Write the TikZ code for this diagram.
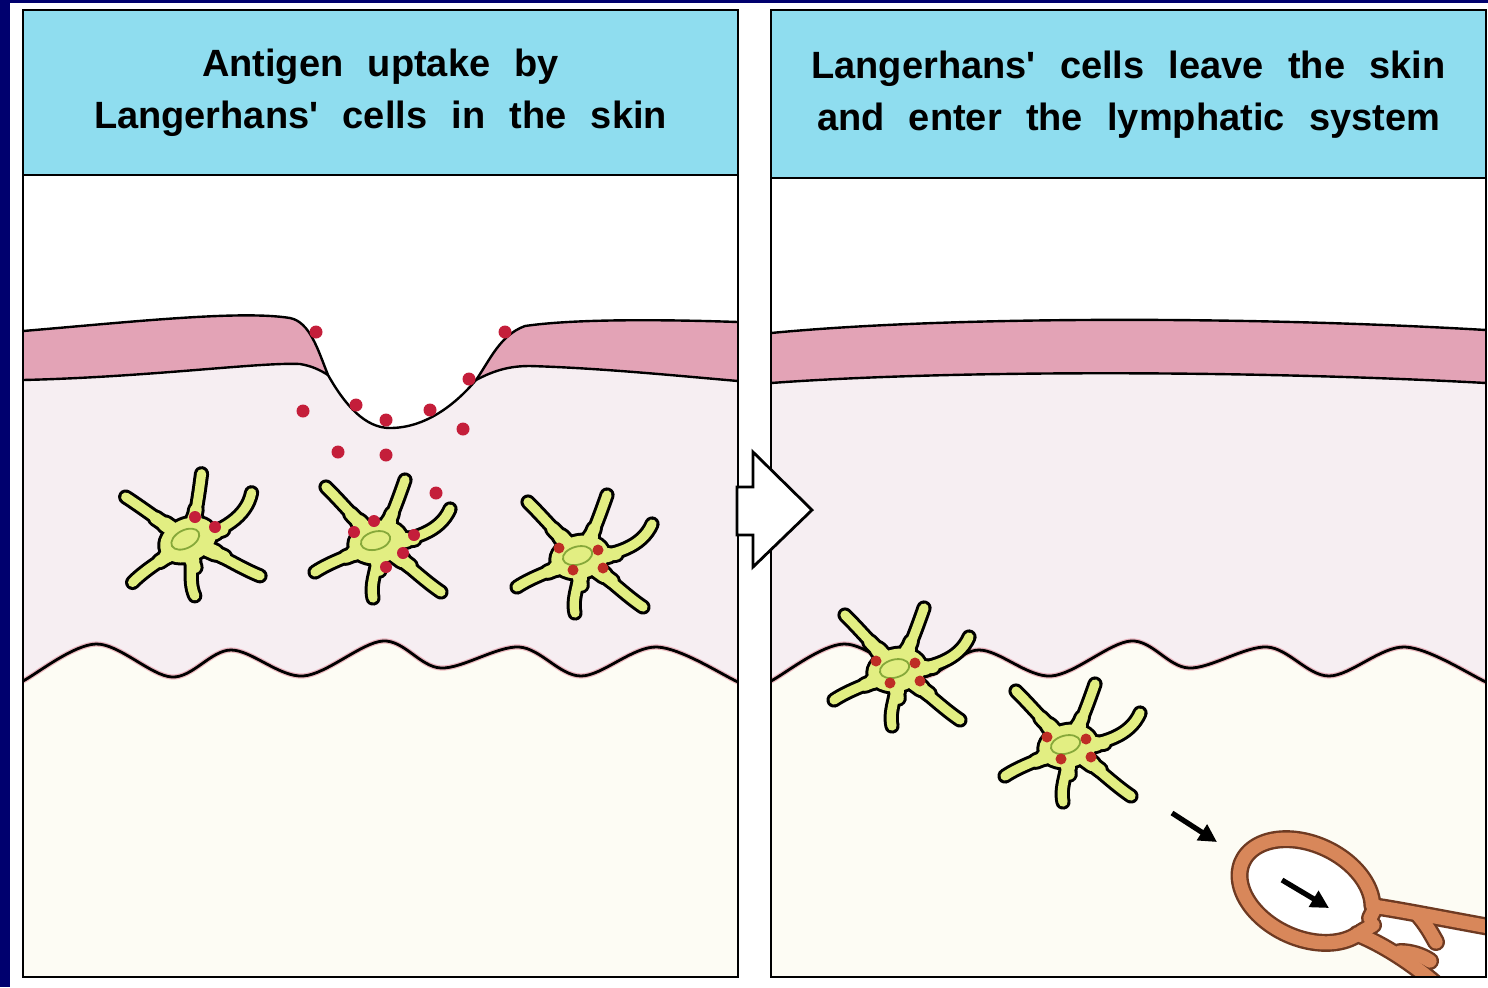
\documentclass[tikz,border=0pt]{standalone}
\usepackage{fontspec}
\newfontfamily\hdrfont[WordSpace=2.3,Ligatures=TeXOff]{Liberation Sans}
\usetikzlibrary{arrows.meta}

\definecolor{navy}{HTML}{00006E}
\definecolor{hdrcyan}{HTML}{8FDDEF}
\definecolor{epid}{HTML}{F6EEF2}
\definecolor{dermis}{HTML}{FDFCF4}
\definecolor{corneum}{HTML}{E3A3B6}
\definecolor{cellyel}{HTML}{E2EE82}
\definecolor{nucgreen}{HTML}{86A83A}
\definecolor{antigen}{HTML}{C41E3A}
\definecolor{granule}{HTML}{BE2D25}
\definecolor{lymphwall}{HTML}{D8875A}
\definecolor{lymphedge}{HTML}{6E3A22}

\tikzset{
  panelline/.style={draw=black,line width=1.4pt},
  skinline/.style={draw=black,line width=1.2pt},
  waveline/.style={draw=black,line width=1.4pt},
  wavehalo/.style={draw=antigen!60,line width=2.6pt,opacity=0.5},
  hdr/.style={align=center,inner sep=0pt,
    font=\hdrfont\bfseries\fontsize{19}{26}\selectfont},
  antidot/.style={fill=antigen},
  grandot/.style={fill=granule},
  migarrow/.style={line width=2.6pt,-{Triangle[length=9pt,width=9pt]}},
  bigarrow/.style={fill=white,draw=black,line width=1.4pt,line join=miter},
  % Langerhans' cell: six tapering processes round a body with a nucleus
  lcell/.pic={
    \foreach \w/\wm/\wb/\col/\rx/\ry in {7.6pt/8.8pt/10pt/black/32/24, 4.6pt/5.8pt/7pt/cellyel/29/21}{
      \draw[line width=\w,color=\col,line cap=round]
        (0,0) .. controls (-18,-18) and (-35,-38) .. (-52,-55)
        (4,-4) .. controls (14,-26) and (20,-42) .. (27,-62)
        (8,0) .. controls (35,-2) and (62,-10) .. (72,-33)
        (5,4) .. controls (25,18) and (45,38) .. (63,50)
        (-2,6) .. controls (3,22) and (-9,38) .. (-5,56)
        (-4,4) .. controls (-25,12) and (-48,20) .. (-63,30);
      \draw[line width=\wm,color=\col,line cap=round]
        (0,0) -- (-27,-28)
        (4,-4) -- (14,-28)
        (8,0) -- (36,-3)
        (5,4) -- (32,24)
        (-2,6) -- (1,28)
        (-4,4) -- (-32,15);
      \draw[line width=\wb,color=\col,line cap=round]
        (0,0) -- (-19,-20)
        (4,-4) -- (11,-20)
        (8,0) -- (28,-2)
        (5,4) -- (24,18)
        (-2,6) -- (0,21)
        (-4,4) -- (-24,11);
      \fill[color=\col,rotate=12] (0,0) ellipse[x radius=\rx,y radius=\ry];
    }
    \draw[nucgreen,line width=0.9pt,rotate=15] (-2,-2) ellipse[x radius=15,y radius=9];
  }
}

\begin{document}
\begin{tikzpicture}[x=0.5pt,y=-0.5pt]
\useasboundingbox (0,0) rectangle (1488,987);
\fill[navy] (0,0) rectangle (1488,987);
\fill[white] (10,3) rectangle (1488,987);

% ---------- left panel: antigen uptake ----------
\begin{scope}
  \clip (23,10) rectangle (738,977);
  \fill[white] (23,10) rectangle (738,977);
  \fill[epid] (23,380) .. controls (150,377) and (260,362) .. (300,364)
    .. controls (312,366) and (320,370) .. (328,375)
    .. controls (345,405) and (365,428) .. (390,428)
    .. controls (425,428) and (455,405) .. (476,380)
    .. controls (495,370) and (510,366) .. (530,366)
    .. controls (600,368) and (680,376) .. (738,381)
    -- (738,720) -- (23,720) -- cycle;
  \fill[dermis] plot[smooth,tension=0.55] coordinates {(10,688) (23,681) (96,644) (172,677) (231,650) (303,676) (383,641) (441,668) (519,647) (581,676) (657,647) (738,682) (750,688)}
    -- (750,990) -- (10,990) -- cycle;
  \draw[wavehalo] plot[smooth,tension=0.55] coordinates {(10,688) (23,681) (96,644) (172,677) (231,650) (303,676) (383,641) (441,668) (519,647) (581,676) (657,647) (738,682) (750,688)};
  \draw[waveline] plot[smooth,tension=0.55] coordinates {(10,688) (23,681) (96,644) (172,677) (231,650) (303,676) (383,641) (441,668) (519,647) (581,676) (657,647) (738,682) (750,688)};
  % stratum corneum, broken by the abrasion
  \fill[corneum] (23,331) .. controls (130,322) and (240,310) .. (290,318)
    .. controls (310,322) and (318,350) .. (328,375)
    .. controls (320,370) and (312,366) .. (300,364)
    .. controls (260,362) and (150,377) .. (23,380) -- cycle;
  \fill[corneum] (476,380) .. controls (490,360) and (500,335) .. (525,326)
    .. controls (580,318) and (680,320) .. (738,322) -- (738,381)
    .. controls (680,376) and (600,368) .. (530,366)
    .. controls (510,366) and (495,370) .. (476,380) -- cycle;
  \draw[skinline] (23,331) .. controls (130,322) and (240,310) .. (290,318)
    .. controls (310,322) and (318,350) .. (328,375)
    .. controls (345,405) and (365,428) .. (390,428)
    .. controls (425,428) and (455,405) .. (476,380)
    .. controls (490,360) and (500,335) .. (525,326)
    .. controls (580,318) and (680,320) .. (738,322);
  \draw[skinline] (23,380) .. controls (150,377) and (260,362) .. (300,364)
    .. controls (312,366) and (320,370) .. (328,375);
  \draw[skinline] (476,380) .. controls (495,370) and (510,366) .. (530,366)
    .. controls (600,368) and (680,376) .. (738,381);
  % Langerhans' cells in the epidermis
  \pic[rotate=12] at (188,540) {lcell};
  \pic at (378,542) {lcell};
  \pic at (580,557) {lcell};
  % antigen particles
  \foreach \p in {(316,332),(505,332),(469,379),(356,405),(386,420),(430,410),
                  (303,411),(463,429),(338,452),(386,455),(436,493)}
    \fill[antidot] \p circle[radius=6.5];
  \foreach \p in {(195,517),(215,527),(354,532),(374,521),(403,553),(414,535),(386,567)}
    \fill[antidot] \p circle[radius=6];
  \foreach \p in {(559,548),(598,550),(573,570),(603,568)}
    \fill[grandot] \p circle[radius=5.5];
  % header
  \fill[hdrcyan] (23,10) rectangle (738,175);
  \draw[panelline] (23,175) -- (738,175);
\end{scope}
\draw[panelline] (23,10) rectangle (738,977);
\node[hdr] (hleft) at (380.5,93) {Antigen uptake by\\Langerhans' cells in the skin};

% ---------- right panel: migration to the lymphatics ----------
\begin{scope}[shift={(748,0)}]
  \clip (23,10) rectangle (738,977);
  \fill[white] (23,10) rectangle (738,977);
  \fill[epid] (23,383) .. controls (200,370) and (500,370) .. (738,383)
    -- (738,720) -- (23,720) -- cycle;
  \fill[dermis] plot[smooth,tension=0.55] coordinates {(10,688) (23,681) (96,644) (172,677) (231,650) (303,676) (383,641) (441,668) (519,647) (581,676) (657,647) (738,682) (750,688)}
    -- (750,990) -- (10,990) -- cycle;
  \draw[wavehalo] plot[smooth,tension=0.55] coordinates {(10,688) (23,681) (96,644) (172,677) (231,650) (303,676) (383,641) (441,668) (519,647) (581,676) (657,647) (738,682) (750,688)};
  \draw[waveline] plot[smooth,tension=0.55] coordinates {(10,688) (23,681) (96,644) (172,677) (231,650) (303,676) (383,641) (441,668) (519,647) (581,676) (657,647) (738,682) (750,688)};
  \fill[corneum] (23,333) .. controls (200,316) and (500,316) .. (738,330) -- (738,383)
    .. controls (500,370) and (200,370) .. (23,383) -- cycle;
  \draw[skinline] (23,333) .. controls (200,316) and (500,316) .. (738,330);
  \draw[skinline] (23,383) .. controls (200,370) and (500,370) .. (738,383);
  \fill[hdrcyan] (23,10) rectangle (738,178);
  \draw[panelline] (23,178) -- (738,178);
\end{scope}

\begin{scope}
  \clip (771,10) rectangle (1486,977);
  % migrating cells
  \pic at (897,670) {lcell};
  \pic at (1068,746) {lcell};
  \foreach \p in {(876,661),(915,663),(890,683),(920,681),
                  (1047,737),(1086,739),(1061,759),(1091,757)}
    \fill[grandot] \p circle[radius=5.5];
  % afferent lymphatic vessel
  \fill[white] plot[domain=0:360,samples=73,smooth,variable=\t]
    ({1306+70*cos(\t)*cos(25)-47*sin(\t)*sin(25)},{891+70*cos(\t)*sin(25)+47*sin(\t)*cos(25)}) -- cycle;
  \fill[white] (1372,906) -- (1495,928) -- (1495,995) -- (1448,995) -- (1357,934) -- cycle;
  \foreach \w/\col in {9pt/lymphedge, 6.6pt/lymphwall}{
    \draw[line width=\w,color=\col,line cap=round,line join=round]
      (1448,995) .. controls (1420,968) and (1385,945) .. (1357,934)
      -- plot[domain=22:342,samples=60,smooth,variable=\t]
        ({1306+70*cos(\t)*cos(25)-47*sin(\t)*sin(25)},{891+70*cos(\t)*sin(25)+47*sin(\t)*cos(25)})
      .. controls (1400,910) and (1440,918) .. (1495,928);
    \draw[line width=\w,color=\col,line cap=round]
      (1418,915) .. controls (1426,924) and (1431,933) .. (1436,942)
      (1400,952) .. controls (1410,952) and (1421,955) .. (1430,961)
      (1376,906) -- (1370,918)
      (1361,932) -- (1373,925);
  }
  \coordinate (m1s) at (1172,813);
  \coordinate (m1e) at (1217,842);
  \coordinate (m2s) at (1282,880);
  \coordinate (m2e) at (1329,908);
  \draw[migarrow] (m1s) -- (m1e);
  \draw[migarrow] (m2s) -- (m2e);
\end{scope}
\draw[panelline] (771,10) rectangle (1486,977);
\node[hdr] (hright) at (1128.5,95) {Langerhans' cells leave the skin\\and enter the lymphatic system};

% transition arrow between the panels
\draw[bigarrow] (737,487) -- (753,487) -- (753,452) -- (812,510) -- (753,567)
  -- (753,535) -- (737,535) -- cycle;
\end{tikzpicture}
\end{document}
